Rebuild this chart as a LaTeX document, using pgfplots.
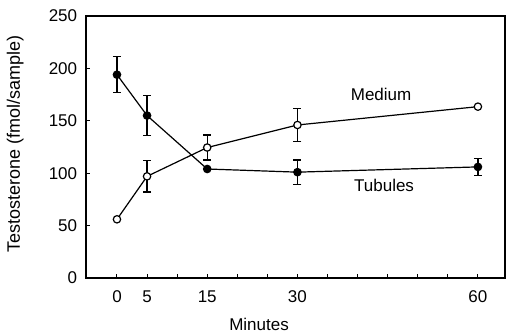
\documentclass[border=0pt]{standalone}
\usepackage{pgfplots}
\pgfplotsset{compat=1.18}
\usepackage{fontspec}
\setmainfont{Liberation Sans}
\begin{document}
\fontsize{17}{19}\selectfont
\begin{tikzpicture}
\begin{axis}[
  at={(0pt,0pt)}, anchor=south west,
  scale only axis,
  width=419pt, height=262pt,
  xmin=-5.15, xmax=64.5,
  ymin=0, ymax=250,
  axis line style={line width=1.2pt},
  xtick={0,5,15,30,60},
  minor xtick={10,20,25,35,40,45,50,55},
  ytick={0,50,100,150,200,250},
  tick align=inside,
  xtick pos=bottom, ytick pos=left,
  major tick length=4pt, minor tick length=4pt,
  tick style={line width=1pt, black},
  /pgf/number format/assume math mode=true,
  tick label style={font=\fontsize{17}{19}\selectfont},
  xticklabel style={yshift=-7pt},
  yticklabel style={xshift=-3pt},
  xlabel={Minutes},
  ylabel={Testosterone (fmol/sample)},
  label style={font=\fontsize{17}{19}\selectfont},
  x label style={at={(axis description cs:0.413,-0.179)}, anchor=center},
  y label style={at={(axis description cs:-0.169,0.51)}, anchor=center, font=\fontsize{18}{20}\selectfont},
  clip=false,
]
\addplot[black, line width=1.2pt, mark=*, mark size=3.7pt,
  mark options={fill=black, solid},
  error bars/.cd, y dir=both, y explicit,
  error bar style={line width=1.2pt}, error mark options={rotate=90, mark size=4pt, line width=1.2pt}]
coordinates {
 (0,194) +- (0,17)
 (5,155) +- (0,19)
 (15,104) +- (0,0)
 (30,101) +- (0,11.5)
 (60,106) +- (0,8)
};
\addplot[black, line width=1.2pt, mark=*, mark size=3.7pt,
  mark options={fill=white, solid},
  error bars/.cd, y dir=both, y explicit,
  error bar style={line width=1.2pt}, error mark options={rotate=90, mark size=4pt, line width=1.2pt}]
coordinates {
 (0,56) +- (0,0)
 (5,97) +- (0,15)
 (15,124.5) +- (0,12)
 (30,146) +- (0,16)
 (60,163.5) +- (0,0)
};
\node[font=\fontsize{17}{19}\selectfont] at (axis cs:43.9,175.6) {Medium};
\node[font=\fontsize{17}{19}\selectfont] at (axis cs:44.4,88.7) {Tubules};
\end{axis}
\pgfresetboundingbox
\path (-86pt,-56pt) rectangle (421pt,278pt);
\end{tikzpicture}
\end{document}
